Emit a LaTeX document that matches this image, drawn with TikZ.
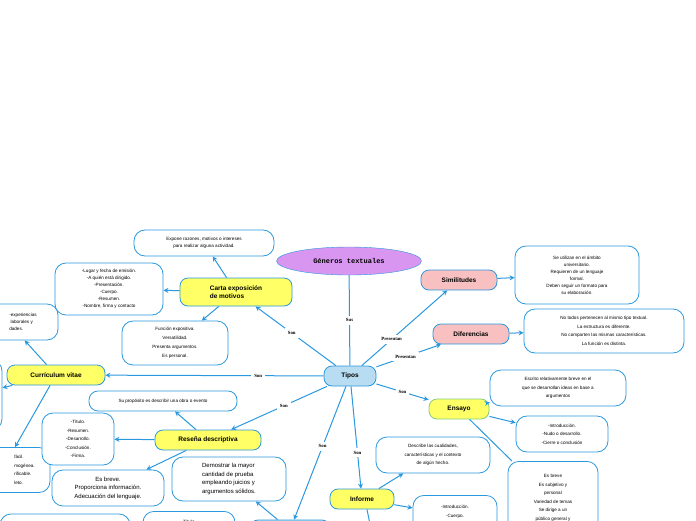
\documentclass[tikz,border=0pt]{standalone}
\usepackage{fontspec}
\setmainfont{Liberation Sans}
\newfontfamily\monob{Liberation Mono}
\newfontfamily\serifb{Liberation Serif}
\usetikzlibrary{shapes.geometric,arrows.meta}
\definecolor{lb}{HTML}{2A98DE}
\definecolor{tip}{HTML}{B8DDF2}
\definecolor{pur}{HTML}{D896F0}
\definecolor{pnk}{HTML}{F8C0C0}
\definecolor{yel}{HTML}{FFFF66}
\begin{document}
\begin{tikzpicture}[x=1pt,y=-1pt,
 wbox/.style={draw=lb,line width=0.8pt,rounded corners=11pt,fill=white,align=center,font=\fontsize{4.6}{7}\selectfont,inner sep=2pt},
 topic/.style={draw=lb,line width=0.8pt,rounded corners=8pt,align=center,font=\fontsize{6.5}{8}\selectfont\bfseries,inner sep=2pt},
 lbl/.style={fill=white,font=\serifb\fontsize{4.8}{5}\selectfont\bfseries,inner sep=3pt},
 ar/.style={draw=lb,line width=1pt,-{Stealth[length=5pt,width=5pt]}},
 ln/.style={draw=lb,line width=1pt}]
\useasboundingbox (0,0) rectangle (696,520);
\clip (0,0) rectangle (696,520);
% main
\node[ellipse,draw=lb,fill=pur,minimum width=145,minimum height=28,font=\monob\fontsize{7}{8}\selectfont\bfseries] (gen) at (349,261) {Géneros textuales};
\node[topic,fill=tip,minimum width=52,minimum height=20] (tip) at (350,376) {Tipos};
\node[topic,fill=pnk,minimum width=76,minimum height=20] (sim) at (459,280) {Similitudes};
\node[topic,fill=pnk,minimum width=76,minimum height=20] (dif) at (471,334) {Diferencias};
\node[topic,fill=yel,draw=green!60!black!50,minimum width=60,minimum height=20] (ens) at (459,409) {Ensayo};
\node[topic,fill=yel,minimum width=64,minimum height=20] (inf) at (362,499) {Informe};
\node[topic,fill=yel,minimum width=112,minimum height=28,align=left] (car) at (236,292) {Carta exposición\\de motivos};
\node[topic,fill=yel,minimum width=98,minimum height=20] (cv) at (56,375) {Currículum vitae};
\node[topic,fill=yel,minimum width=106,minimum height=20] (res) at (208,440) {Reseña descriptiva};
\node[topic,fill=tip,minimum width=80,minimum height=20] (bot) at (290,530) {};
% white boxes
\node[wbox,minimum width=140,minimum height=26] (a) at (204,243) {Expone razones, motivos o intereses\\para realizar alguna actividad.};
\node[wbox,minimum width=108,minimum height=52] (b) at (109,289) {-Lugar y fecha de emisión.\\-A quién está dirigido.\\-Presentación.\\-Cuerpo.\\-Resumen.\\-Nombre, firma y contacto};
\node[wbox,minimum width=106,minimum height=44,font=\fontsize{4.6}{9}\selectfont] (c) at (175,343) {Función expositiva.\\Versatilidad.\\Presenta argumentos.\\Es personal.};
\node[wbox,minimum width=100,minimum height=36,align=left] (d) at (8,322) {\hspace*{30pt}-experiencias\\\hspace*{30pt} laborales y\\\hspace*{30pt}dades.};
\node[wbox,minimum width=60,minimum height=70] (e) at (-28,395) {};
\node[wbox,minimum width=96,minimum height=45,align=left,font=\fontsize{4.6}{8.5}\selectfont] (f) at (2,470) {\hspace*{45pt}fácil.\\\hspace*{45pt}mogénea.\\\hspace*{45pt}rificable.\\\hspace*{45pt}leto.};
\node[wbox,minimum width=148,minimum height=20,rounded corners=9pt] (g) at (163,401) {Su propósito es describir una obra o evento};
\node[wbox,minimum width=72,minimum height=52,font=\fontsize{4.6}{8.5}\selectfont] (h) at (78,439) {-Título.\\-Resumen.\\-Desarrollo.\\-Conclusión.\\-Firma.};
\node[wbox,minimum width=112,minimum height=36,font=\fontsize{6}{8.5}\selectfont] (i) at (108,488) {Es breve.\\Proporciona información.\\Adecuación del lenguaje.};
\node[wbox,minimum width=114,minimum height=44,font=\fontsize{6}{8.5}\selectfont,align=left] (j) at (229,479) {Demostrar la mayor\\cantidad de prueba\\empleando juicios y\\argumentos sólidos.};
\node[wbox,minimum width=130,minimum height=30] (k) at (65,529) {};
\node[wbox,minimum width=92,minimum height=30,anchor=north,inner sep=0pt] (l) at (189,511) {\raisebox{10pt}{Título}};
\node[wbox,minimum width=124,minimum height=58] (m) at (577,275) {Se utilizan en el ámbito\\universitario.\\Requieren de un lenguaje\\formal.\\Deben seguir un formato para\\su elaboración.};
\node[wbox,minimum width=160,minimum height=44,font=\fontsize{4.6}{8.5}\selectfont] (n) at (604,331) {No todos pertenecen al mismo tipo textual.\\La estructura es diferente.\\No comparten las mismas características.\\La función es distinta.};
\node[wbox,minimum width=136,minimum height=36,font=\fontsize{4.6}{8.5}\selectfont] (o) at (558,388) {Escrito relativamente breve en el\\que se desarrollan ideas en base a\\argumentos};
\node[wbox,minimum width=92,minimum height=36,font=\fontsize{4.6}{8.5}\selectfont] (p) at (562,434) {-Introducción.\\-Nudo o desarrollo.\\-Cierre o conclusión};
\node[wbox,minimum width=90,minimum height=80,font=\fontsize{4.6}{8.5}\selectfont,anchor=north] (q) at (553,461) {Es breve\\Es subjetivo y\\personal\\Variedad de temas\\Se dirige a un\\público general y\\ };
\node[wbox,minimum width=114,minimum height=36,font=\fontsize{4.6}{8.5}\selectfont] (r) at (433,455) {Describe las cualidades,\\características y el contexto\\de algún hecho.};
\node[wbox,minimum width=84,minimum height=40,font=\fontsize{4.6}{8.5}\selectfont,anchor=north] (s) at (455,495) {-Introducción.\\-Cuerpo.\\ };
% connectors from Tipos
\draw[ln] (tip) -- node[lbl]{Sus} (gen);
\draw[ar] (tip) -- node[lbl,pos=0.35]{Presentan} (sim);
\draw[ar] (tip) -- node[lbl,pos=0.45]{Presentan} (dif);
\draw[ar] (tip) -- node[lbl,pos=0.5]{Son} (ens);
\draw[ar] (tip) -- node[lbl,pos=0.65]{Son} (inf);
\draw[ar] (tip) -- node[lbl,pos=0.45]{Son} (bot);
\draw[ar] (tip) -- node[lbl,pos=0.45]{Son} (res);
\draw[ar] (tip) -- node[lbl,pos=0.3]{Son} (cv);
\draw[ar] (tip) -- node[lbl,pos=0.55]{Son} (car);
% topic children
\draw[ar] (car) -- (a);
\draw[ar] (car) -- (b);
\draw[ar] (car) -- (c);
\draw[ar] (cv) -- (d);
\draw[ar] (cv) -- (e);
\draw[ar] (cv) -- (f);
\draw[ar] (res) -- (g);
\draw[ar] (res) -- (h);
\draw[ar] (res) -- (i);
\draw[ar] (bot) -- (j);
\draw[ar] (bot) -- (l);
\draw[ar] (sim) -- (m);
\draw[ar] (dif) -- (n);
\draw[ar] (ens) -- (o);
\draw[ar] (ens) -- (p);
\draw[ln] (ens) -- (q);
\draw[ar] (inf) -- (r);
\draw[ar] (inf) -- (s);
\draw[ln] (inf.south) ++(5,0) -- ++(3,15);
\end{tikzpicture}
\end{document}
